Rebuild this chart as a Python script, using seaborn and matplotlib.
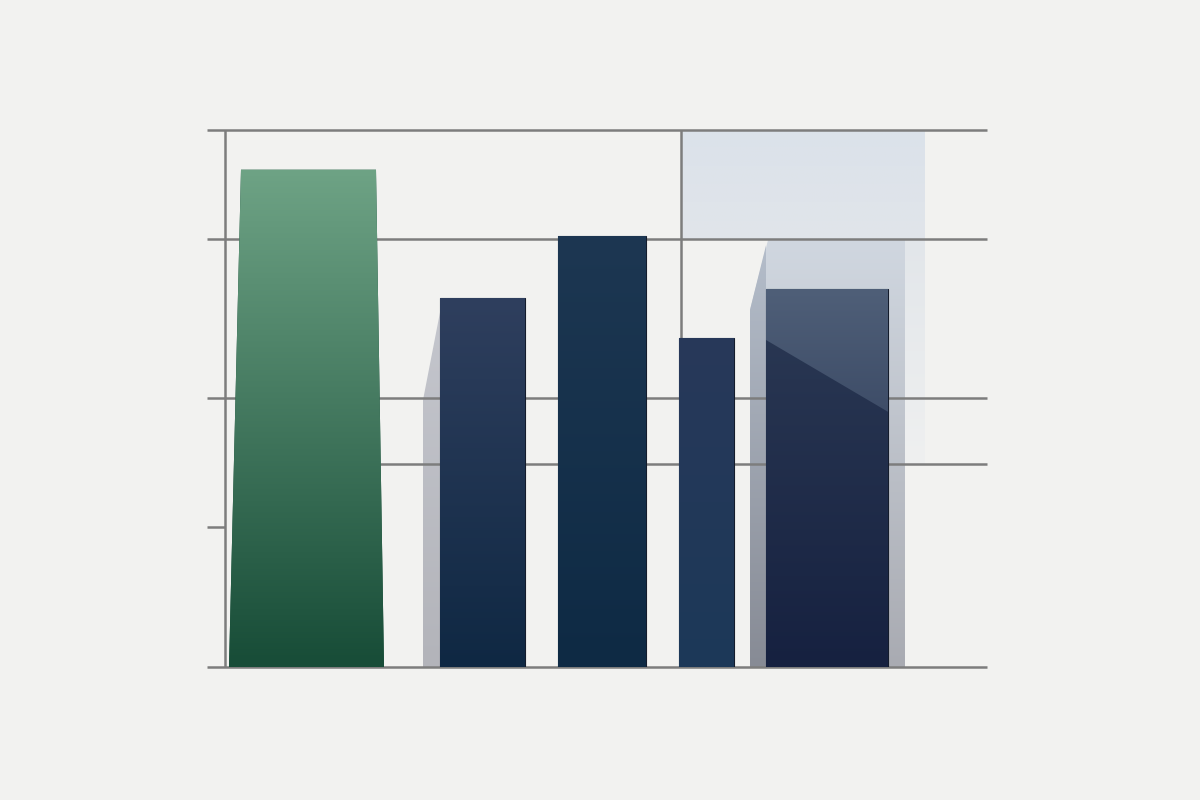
import numpy as np
import pandas as pd
import matplotlib
matplotlib.use("Agg")
import matplotlib.pyplot as plt
import seaborn as sns
from matplotlib.colors import to_rgba
from matplotlib.patches import Polygon

# ---------------- data ----------------
categories = ["A", "B", "C", "D", "E"]
values = [92.6, 68.7, 80.3, 61.3, 70.4]
grid_levels = [100, 79.7, 50.1]
partial_grid_level = 37.8
tick_level = 26.1

# ---------------- layout / style ----------------
bar_centers = [1.005, 2.755, 3.95, 4.995, 6.20]
bar_widths = [1.45, 0.85, 0.88, 0.55, 1.22]
top_colors = ["#6ea385", "#2f3f5e", "#1d3752", "#28395a", "#2c3a55"]
bottom_colors = ["#174c37", "#0f2843", "#0e2a44", "#1c3858", "#162140"]
edge_colors = ["#2f6a4c", "#141c2c", "#141c2c", "#141c2c", "#141c2c"]
bg = "#f2f2f0"
line_c = "#7d7d7d"
XMAX = 7.8

sns.set_theme(style="white")
fig = plt.figure(figsize=(12, 8), dpi=100, facecolor=bg)
ax = fig.add_axes([207 / 1200, 133 / 800, 780 / 1200, 537 / 800])
ax.set_facecolor("none")

df = pd.DataFrame({"cat": categories, "val": values})
sns.barplot(data=df, x="cat", y="val", hue="cat", palette=bottom_colors,
            legend=False, ax=ax, saturation=1, zorder=3)

bars = []
for i, cont in enumerate(ax.containers):
    p = cont.patches[0]
    p.set_x(bar_centers[i] - bar_widths[i] / 2)
    p.set_width(bar_widths[i])
    p.set_edgecolor(edge_colors[i])
    p.set_linewidth(0.8)
    p.set_zorder(3)
    bars.append(p)


def vgrad(x0, x1, y0, y1, c_top, c_bot, z, clip=None, a_top=1.0, a_bot=1.0):
    n = 256
    t = np.linspace(0, 1, n)[:, None, None]
    ct = np.array(to_rgba(c_top)); ct[3] = a_top
    cb = np.array(to_rgba(c_bot)); cb[3] = a_bot
    img = (1 - t) * ct + t * cb
    im = ax.imshow(img, extent=(x0, x1, y0, y1), origin="upper",
                   aspect="auto", zorder=z, interpolation="bilinear")
    if clip is not None:
        im.set_clip_path(clip)
    return im


# first (green) bar: slightly tapered silhouette
g = bars[0]
gx0 = g.get_x(); gx1 = gx0 + g.get_width(); gh = g.get_height()
g_shape = Polygon([(gx0 - 0.06, 0), (gx1 + 0.04, 0), (gx1 - 0.04, gh), (gx0 + 0.06, gh)],
                  closed=True, facecolor=bottom_colors[0], edgecolor="none", zorder=3)
ax.add_patch(g_shape)
g.set_visible(False)
vgrad(gx0 - 0.06, gx1 + 0.04, 0, gh, top_colors[0], bottom_colors[0], 3.1, clip=g_shape)

# gradients on the navy bars
for i, p in enumerate(bars[1:], start=1):
    x0 = p.get_x(); x1 = x0 + p.get_width(); h = p.get_height()
    vgrad(x0, x1, 0, h, top_colors[i], bottom_colors[i], 3.1, clip=p)

# diagonal highlight on last bar
p5 = bars[4]
x0 = p5.get_x(); x1 = x0 + p5.get_width(); h5 = p5.get_height()
hl = Polygon([(x0, h5), (x1, h5), (x1, h5 * 0.675), (x0, h5 * 0.865)],
             closed=True, facecolor="none", edgecolor="none", zorder=3.2)
ax.add_patch(hl)
vgrad(x0, x1, h5 * 0.675, h5, "#4f5f78", "#3e4d68", 3.2, clip=hl)

# light blue highlight box (top right)
hx0, hx1 = 4.74, 7.18
top_box = Polygon([(hx0, 100), (hx1, 100), (hx1, grid_levels[1]), (hx0, grid_levels[1])],
                  closed=True, facecolor="none", edgecolor="none", zorder=0.5)
ax.add_patch(top_box)
vgrad(hx0, hx1, grid_levels[1], 100, "#dbe2ea", "#e1e5ea", 0.5, clip=top_box)
strip = Polygon([(6.98, grid_levels[1]), (hx1, grid_levels[1]), (hx1, partial_grid_level),
                 (6.98, partial_grid_level)], closed=True, facecolor="none",
                edgecolor="none", zorder=0.5)
ax.add_patch(strip)
vgrad(6.98, hx1, partial_grid_level, grid_levels[1], "#e2e6ea", "#eff0f0", 0.5, clip=strip)

# shadow behind bar 5
s5 = Polygon([(5.43, 0), (5.43, 66.5), (5.61, 79.5), (6.98, 79.5), (6.98, 0)],
             closed=True, facecolor="none", edgecolor="none", zorder=1)
ax.add_patch(s5)
vgrad(5.43, 6.98, 0, 79.5, "#d0d7e0", "#a9abb2", 1, clip=s5)
s5l = Polygon([(5.43, 0), (5.43, 66.5), (5.59, 78.5), (5.59, 0)],
              closed=True, facecolor="none", edgecolor="none", zorder=1.1)
ax.add_patch(s5l)
vgrad(5.43, 5.59, 0, 78.5, "#b4bdca", "#878b95", 1.1, clip=s5l)

# shadow behind bar 2
s2 = Polygon([(2.16, 0), (2.16, 49.7), (2.34, 67.0), (2.34, 0)],
             closed=True, facecolor="none", edgecolor="none", zorder=1)
ax.add_patch(s2)
vgrad(2.16, 2.34, 0, 67.0, "#c4c6cd", "#b3b4ba", 1, clip=s2)

# grid lines
ax.hlines(grid_levels, 0, XMAX, color=line_c, lw=1.8, zorder=2, clip_on=False)
ax.hlines(partial_grid_level, 1.73, XMAX, color=line_c, lw=1.8, zorder=2, clip_on=False)
ax.hlines(tick_level, 0, 0.18, color=line_c, lw=1.8, zorder=2, clip_on=False)
ax.hlines(0, 0, XMAX, color=line_c, lw=1.8, zorder=2.5, clip_on=False)
ax.vlines(0.18, 0, 100, color=line_c, lw=1.8, zorder=2, clip_on=False)
ax.vlines(4.74, values[3], 100, color=line_c, lw=1.8, zorder=2, clip_on=False)

ax.set_xlim(0, XMAX)
ax.set_ylim(0, 100)
ax.set_axis_off()

fig.savefig("out.png", dpi=100, facecolor=bg)
